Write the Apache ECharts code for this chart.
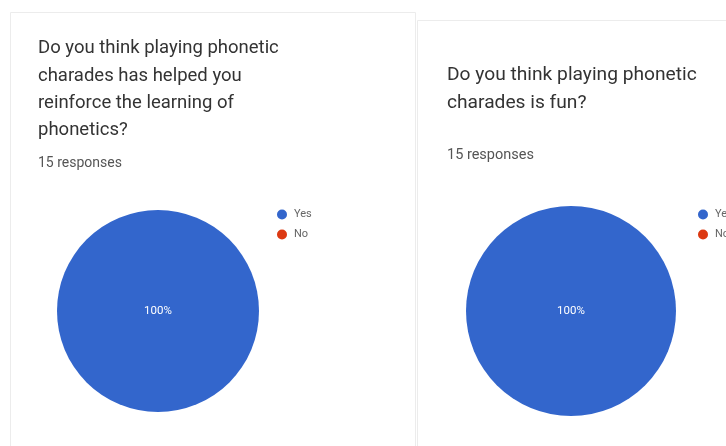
<!DOCTYPE html>
<html>
<head>
<meta charset="utf-8">
<script src="https://cdn.jsdelivr.net/npm/echarts@6/dist/echarts.min.js"></script>
<style>
  html, body { margin: 0; padding: 0; background: #fff; }
  #chart { width: 726px; height: 446px; }
</style>
</head>
<body>
<div id="chart"></div>
<script>
// answers and counts for the two questions
const answers = ["Yes", "No"];
const helpedCounts = [15, 0];
const funCounts = [15, 0];
const helpedTitle = "Do you think playing phonetic\ncharades has helped you\nreinforce the learning of\nphonetics?";
const funTitle = "Do you think playing phonetic\ncharades is fun?";
const responsesText = "15 responses";

const colors = ["#3366cc", "#dc3912"];
const font = "Roboto, 'Noto Sans', sans-serif";

function pieData(counts) {
  return answers.map((name, i) => ({ name: name, value: counts[i] }));
}

function pieSeries(counts, center, radius) {
  return {
    type: "pie",
    center: center,
    radius: radius,
    startAngle: 90,
    avoidLabelOverlap: false,
    stillShowZeroSum: true,
    itemStyle: { borderWidth: 0 },
    label: {
      show: true,
      position: "center",
      color: "#ffffff",
      fontSize: 11.5,
      fontFamily: font,
      formatter: (p) => (p.value === 0 ? "" : p.percent + "%"),
    },
    labelLine: { show: false },
    emphasis: { disabled: true },
    data: pieData(counts),
  };
}

function legend(left, top) {
  return {
    orient: "vertical",
    left: left,
    top: top,
    padding: 0,
    icon: "circle",
    itemWidth: 10,
    itemHeight: 10,
    itemGap: 9,
    data: answers,
    textStyle: { fontSize: 11, color: "#666", fontFamily: font, padding: [0, 0, 0, 2] },
  };
}

const chart = echarts.init(document.getElementById("chart"));

chart.setOption({
  animation: false,
  color: colors,
  graphic: [
    {
      type: "rect",
      shape: { x: 10.5, y: 12.5, width: 405, height: 460 },
      style: { fill: "#fff", stroke: "#ececec", lineWidth: 1 },
      z: -10,
    },
    {
      type: "rect",
      shape: { x: 417.5, y: 20.5, width: 340, height: 460 },
      style: { fill: "#fff", stroke: "#ececec", lineWidth: 1 },
      z: -10,
    },
  ],
  title: [
    {
      text: helpedTitle,
      left: 38,
      top: 35,
      padding: 0,
      textStyle: { fontSize: 18.5, fontWeight: "normal", color: "#333", lineHeight: 27.3, fontFamily: font },
    },
    {
      text: responsesText,
      left: 38,
      top: 155,
      padding: 0,
      textStyle: { fontSize: 14, fontWeight: "normal", color: "#555", lineHeight: 16, fontFamily: font },
    },
    {
      text: funTitle,
      left: 447,
      top: 61,
      padding: 0,
      textStyle: { fontSize: 19.2, fontWeight: "normal", color: "#333", lineHeight: 28, fontFamily: font },
    },
    {
      text: responsesText,
      left: 447,
      top: 147,
      padding: 0,
      textStyle: { fontSize: 14.5, fontWeight: "normal", color: "#555", lineHeight: 16, fontFamily: font },
    },
  ],
  legend: [legend(277, 209), legend(698, 209)],
  series: [
    pieSeries(helpedCounts, [158, 311], 101),
    pieSeries(funCounts, [571, 311], 105),
  ],
});
</script>
</body>
</html>
